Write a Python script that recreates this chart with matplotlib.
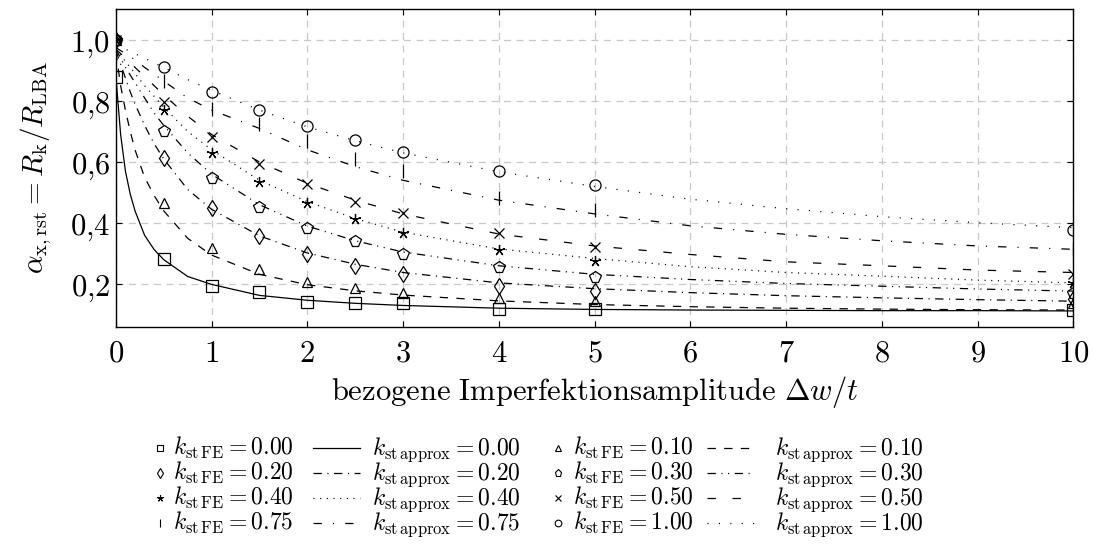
import matplotlib
matplotlib.use("Agg")
import matplotlib.pyplot as plt

plt.rcParams['mathtext.fontset'] = 'cm'
plt.rcParams['font.family'] = 'serif'
plt.rcParams['font.serif'] = ['DejaVu Serif']
plt.rcParams['lines.scale_dashes'] = False

# FE results (markers)
x_fe = [0, 0.5, 1, 1.5, 2, 2.5, 3, 4, 5, 10]
fe_000 = [0.878, 0.281, 0.193, 0.174, 0.142, 0.137, 0.139, 0.120, 0.117, 0.115]
fe_010 = [1.0, 0.467, 0.317, 0.248, 0.208, 0.186, 0.170, 0.153, 0.145, 0.137]
fe_020 = [1.0, 0.614, 0.450, 0.358, 0.300, 0.259, 0.233, 0.195, 0.178, 0.152]
fe_030 = [1.0, 0.702, 0.549, 0.453, 0.383, 0.340, 0.300, 0.257, 0.224, 0.170]
fe_040 = [1.0, 0.770, 0.628, 0.535, 0.465, 0.414, 0.366, 0.311, 0.275, 0.203]
fe_050 = [1.0, 0.798, 0.682, 0.592, 0.528, 0.469, 0.432, 0.367, 0.322, 0.232]
fe_075 = [1.0, 0.865, 0.774, 0.725, 0.670, 0.610, 0.571, 0.482, 0.443, 0.315]
fe_100 = [1.0, 0.910, 0.830, 0.770, 0.718, 0.672, 0.634, 0.570, 0.525, 0.376]

# approximation curves
x_ap = [0, 0.05, 0.1, 0.15, 0.2, 0.3, 0.4, 0.5, 0.75, 1, 1.5, 2, 2.5, 3, 4, 5, 6, 7, 8, 9, 10]
ap_000 = [0.88, 0.69, 0.57, 0.495, 0.44, 0.36, 0.313, 0.28, 0.225, 0.199, 0.163, 0.147, 0.137, 0.130, 0.121, 0.117, 0.115, 0.114, 0.113, 0.113, 0.112]
ap_010 = [0.96, 0.85, 0.77, 0.70, 0.64, 0.55, 0.49, 0.44, 0.35, 0.295, 0.232, 0.198, 0.178, 0.164, 0.145, 0.133, 0.126, 0.121, 0.118, 0.116, 0.115]
ap_020 = [0.965, 0.92, 0.875, 0.83, 0.79, 0.72, 0.66, 0.61, 0.51, 0.445, 0.358, 0.302, 0.265, 0.238, 0.204, 0.185, 0.172, 0.162, 0.155, 0.149, 0.144]
ap_030 = [0.97, 0.94, 0.91, 0.885, 0.86, 0.81, 0.76, 0.72, 0.63, 0.56, 0.46, 0.39, 0.342, 0.305, 0.26, 0.232, 0.215, 0.202, 0.193, 0.184, 0.177]
ap_040 = [0.97, 0.95, 0.93, 0.91, 0.89, 0.85, 0.815, 0.78, 0.70, 0.64, 0.54, 0.47, 0.415, 0.37, 0.315, 0.284, 0.257, 0.238, 0.226, 0.213, 0.204]
ap_050 = [0.97, 0.955, 0.94, 0.925, 0.91, 0.88, 0.85, 0.82, 0.75, 0.69, 0.60, 0.53, 0.475, 0.43, 0.364, 0.325, 0.297, 0.273, 0.26, 0.246, 0.238]
ap_075 = [0.975, 0.965, 0.955, 0.945, 0.935, 0.91, 0.888, 0.865, 0.81, 0.77, 0.71, 0.64, 0.585, 0.54, 0.475, 0.43, 0.391, 0.363, 0.342, 0.325, 0.314]
ap_100 = [0.98, 0.975, 0.97, 0.962, 0.955, 0.94, 0.925, 0.91, 0.87, 0.835, 0.77, 0.715, 0.67, 0.63, 0.568, 0.52, 0.478, 0.447, 0.421, 0.401, 0.385]

k_labels = ['0.00', '0.10', '0.20', '0.30', '0.40', '0.50', '0.75', '1.00']
fe_data = [fe_000, fe_010, fe_020, fe_030, fe_040, fe_050, fe_075, fe_100]
ap_data = [ap_000, ap_010, ap_020, ap_030, ap_040, ap_050, ap_075, ap_100]

markers = ['s', '^', 'd', 'p', (5, 2, 0), 'x', '|', 'o']
msizes = [8, 7, 8, 8.5, 8, 7, 10, 8]
styles = ['-',
          (0, (6, 6)),
          (0, (6, 4, 0.8, 4)),
          (0, (6, 4, 0.8, 4, 0.8, 4)),
          (0, (0.8, 4)),
          (0, (6, 12)),
          (0, (6, 8, 0.8, 8)),
          (0, (0.8, 7.4))]

fig = plt.figure(figsize=(10.93, 5.53), dpi=100)
ax = fig.add_axes([0.106, 0.409, 0.876, 0.574])

for i in range(len(k_labels)):
    ax.plot(x_fe, fe_data[i], linestyle='none', marker=markers[i], ms=msizes[i],
            mfc='none', mec='black', mew=0.9, zorder=3)
    ax.plot(x_ap, ap_data[i], color='black', lw=0.9, linestyle=styles[i], zorder=2)

ax.set_xlim(0, 10)
ax.set_ylim(0.06, 1.1)
ax.set_xticks(range(0, 11))
ax.set_xticklabels(['$%d$' % v for v in range(0, 11)])
yt = [0.2, 0.4, 0.6, 0.8, 1.0]
ax.set_yticks(yt)
ax.set_yticklabels([('$%.1f$' % v).replace('.', '{,}') for v in yt])
ax.tick_params(direction='in', length=4.5, width=0.8, labelsize=22, top=True, right=True)
ax.tick_params(axis='x', pad=8)
ax.tick_params(axis='y', pad=4)
ax.grid(True, color='#c8c8c8', linestyle=(0, (5, 4)), lw=0.9)
for s in ax.spines.values():
    s.set_linewidth(1.0)

ax.set_xlabel(r'$\mathrm{bezogene\ Imperfektionsamplitude}\ \Delta w/t$', fontsize=22, labelpad=4)
ax.set_ylabel(r'$\alpha_{\mathrm{x,rst}} = R_\mathrm{k}/R_\mathrm{LBA}$', fontsize=21, labelpad=12)

# legend drawn by hand on an overlay in pixel units, 4 rows x 4 columns
lax = fig.add_axes([0, 0, 1, 1])
lax.set_xlim(0, 1093)
lax.set_ylim(553, 0)
lax.axis('off')
row_base = [455, 480, 505, 530]
col_handle = [(160, 160), (313, 360), (558, 558), (707, 754)]
col_text = [173, 372, 573, 775]
for r in range(4):
    for c in range(4):
        i = 2 * r + c // 2
        hx0, hx1 = col_handle[c]
        yh = row_base[r] - 7
        if c % 2 == 0:
            lax.plot([hx0], [yh], linestyle='none', marker=markers[i], ms=msizes[i] * 0.6,
                     mfc='none', mec='black', mew=0.8)
            txt = r'$k_{\mathrm{st\,FE}} = %s$' % k_labels[i]
        else:
            lax.plot([hx0, hx1], [yh, yh], color='black', lw=0.9, linestyle=styles[i])
            txt = r'$k_{\mathrm{st\,approx}} = %s$' % k_labels[i]
        lax.text(col_text[c], row_base[r], txt, fontsize=17, va='baseline', ha='left')

fig.savefig('out.png', dpi=100)
